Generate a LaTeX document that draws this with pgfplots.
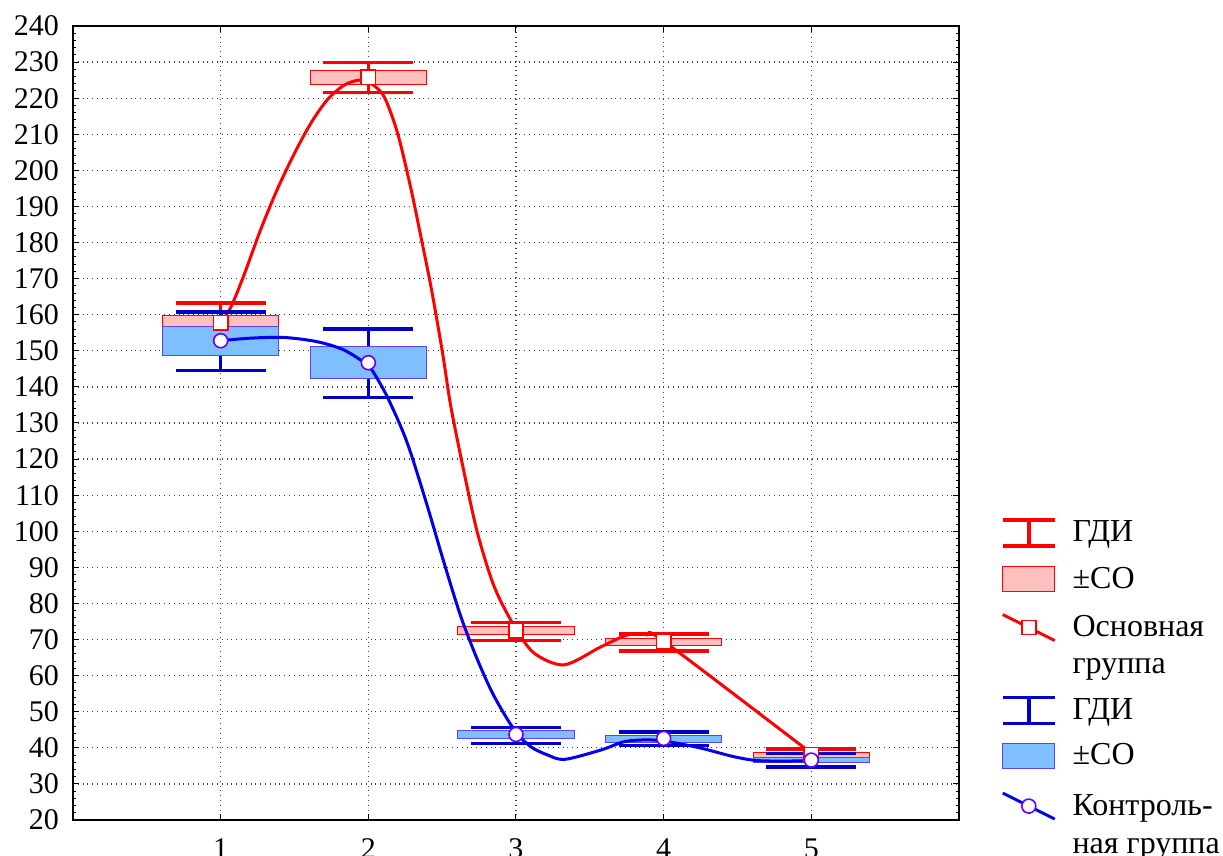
\documentclass[border=0pt]{standalone}
\usepackage{fontspec}
\setmainfont{Liberation Serif}
\usepackage{pgfplots}
\pgfplotsset{compat=1.18}
\definecolor{cred}{RGB}{255,0,0}
\definecolor{cpink}{RGB}{255,192,192}
\definecolor{cblue}{RGB}{0,0,235}
\definecolor{cbluew}{RGB}{0,0,205}
\definecolor{cbluefill}{RGB}{128,191,255}
\definecolor{cblueedge}{RGB}{96,64,255}
\definecolor{ccircle}{RGB}{100,0,255}
\newcommand{\lbb}[1]{\path[draw=none,fill=none] (0pt,-4.5pt) rectangle (26pt,#1);}
\newcommand{\ibar}[1]{\draw[#1, line width=1.8pt] (0pt,6.5pt) -- (26pt,6.5pt) (0pt,-6.5pt) -- (26pt,-6.5pt) (13pt,6.5pt) -- (13pt,-6.5pt);}
\begin{document}
\begin{tikzpicture}
\begin{axis}[name=ax, scale only axis, width=443pt, height=397pt,
 xmin=0, xmax=6, ymin=20, ymax=240,
 xtick={1,2,3,4,5}, ytick={20,30,...,240}, minor y tick num=4,
 grid=major, grid style={dotted, line width=0.6pt, black!75},
 tick align=inside, major tick length=3pt, minor tick length=1.6pt,
 axis line style={line width=0.6pt}, tick style={black, line width=0.5pt},
 /pgf/number format/assume math mode=true,
 tick label style={font=\fontsize{15}{15}\selectfont},
 xticklabel style={yshift=-6pt},
 yticklabel style={xshift=-3.5pt},
 unbounded coords=jump,
 legend style={at={(1,0)}, anchor=north west, xshift=21pt, yshift=153.5pt,
   draw=none, fill=none, inner sep=0pt, outer sep=0pt,
   font=\fontsize{16}{16.5}\selectfont, row sep=0pt, column sep=8pt,
   nodes={inner sep=0pt, outer sep=0pt},
   cells={anchor=base west}},
 legend cell align=left,
]
% ---------- red group: whiskers ----------
\addplot[cred, line width=1.8pt, forget plot] table {
x y
0.695 163.2
1.305 163.2
nan nan
1 152.4
1 163.2
nan nan
1.695 229.9
2.305 229.9
nan nan
1.695 221.6
2.305 221.6
nan nan
2 221.6
2 229.9
nan nan
2.695 74.7
3.305 74.7
nan nan
2.695 69.7
3.305 69.7
nan nan
3 69.7
3 74.7
nan nan
3.695 71.6
4.305 71.6
nan nan
3.695 66.9
4.305 66.9
nan nan
4 66.9
4 71.6
nan nan
4.695 39.7
5.305 39.7
nan nan
4.695 36.5
5.305 36.5
nan nan
5 36.5
5 39.7
};
% ---------- red boxes ----------
\addplot[fill=cpink, draw=cred, line width=0.5pt, forget plot] coordinates {(0.605,155.7) (1.395,155.7) (1.395,159.9) (0.605,159.9)} -- cycle;
\addplot[fill=cpink, draw=cred, line width=0.5pt, forget plot] coordinates {(1.605,223.9) (2.395,223.9) (2.395,227.6) (1.605,227.6)} -- cycle;
\addplot[fill=cpink, draw=cred, line width=0.5pt, forget plot] coordinates {(2.605,71.3) (3.395,71.3) (3.395,73.6) (2.605,73.6)} -- cycle;
\addplot[fill=cpink, draw=cred, line width=0.5pt, forget plot] coordinates {(3.605,68.3) (4.395,68.3) (4.395,70.4) (3.605,70.4)} -- cycle;
\addplot[fill=cpink, draw=cred, line width=0.5pt, forget plot] coordinates {(4.605,37.4) (5.395,37.4) (5.395,38.8) (4.605,38.8)} -- cycle;
% ---------- red means ----------
\addplot[only marks, mark=square*, mark size=3.6pt, mark options={fill=white, draw=cred, line width=0.8pt}, forget plot]
 coordinates {(1,157.8) (2,225.8) (3,72.4) (4,69.4) (5,38.1)};
% ---------- red curve ----------
\addplot[cred, line width=1.5pt, smooth, forget plot] coordinates {
(1,157.8) (1.068,162.0) (1.158,171.0) (1.27,183.5) (1.384,194.8) (1.497,204.5)
(1.61,213.0) (1.723,219.6) (1.836,223.6) (1.938,225.0) (2.017,224.1) (2.107,220.4)
(2.198,210.3) (2.288,195.0) (2.356,181.6) (2.424,167.8) (2.503,149.3) (2.559,134.5)
(2.65,116) (2.74,99.4) (2.853,84.6) (2.99,73.6) (3.124,66.2) (3.327,63.0)
(3.576,68.0) (3.757,71.3) (3.89,71.3) (4.005,69.4) (5,38.5)};
% ---------- blue whiskers ----------
\addplot[cbluew, line width=1.8pt, forget plot] table {
x y
0.695 160.7
1.305 160.7
nan nan
0.695 144.6
1.305 144.6
nan nan
1 144.6
1 160.7
nan nan
1.695 156.0
2.305 156.0
nan nan
1.695 137.1
2.305 137.1
nan nan
2 137.1
2 156.0
nan nan
2.695 45.6
3.305 45.6
nan nan
2.695 41.2
3.305 41.2
nan nan
3 41.2
3 45.6
nan nan
3.695 44.3
4.305 44.3
nan nan
3.695 40.6
4.305 40.6
nan nan
4 40.6
4 44.3
nan nan
4.695 38.4
5.305 38.4
nan nan
4.695 34.7
5.305 34.7
nan nan
5 34.7
5 38.4
};
% ---------- blue boxes ----------
\addplot[fill=cbluefill, draw=cblueedge, line width=0.5pt, forget plot] coordinates {(0.605,148.8) (1.395,148.8) (1.395,156.8) (0.605,156.8)} -- cycle;
\addplot[fill=cbluefill, draw=cblueedge, line width=0.5pt, forget plot] coordinates {(1.605,142.2) (2.395,142.2) (2.395,151.1) (1.605,151.1)} -- cycle;
\addplot[fill=cbluefill, draw=cblueedge, line width=0.5pt, forget plot] coordinates {(2.605,42.7) (3.395,42.7) (3.395,44.7) (2.605,44.7)} -- cycle;
\addplot[fill=cbluefill, draw=cblueedge, line width=0.5pt, forget plot] coordinates {(3.605,41.5) (4.395,41.5) (4.395,43.3) (3.605,43.3)} -- cycle;
\addplot[fill=cbluefill, draw=cblueedge, line width=0.5pt, forget plot] coordinates {(4.605,35.8) (5.395,35.8) (5.395,37.4) (4.605,37.4)} -- cycle;
% ---------- blue means ----------
\addplot[only marks, mark=*, mark size=3.5pt, mark options={fill=white, draw=ccircle, line width=0.8pt}, forget plot]
 coordinates {(1,152.8) (2,146.7) (3,43.7) (4,42.6) (5,36.6)};
% ---------- blue curve ----------
\addplot[cblue, line width=1.5pt, smooth, forget plot] coordinates {
(1,152.8) (1.2,153.5) (1.43,153.7) (1.656,152.5) (1.836,150.2) (1.995,146.0)
(2.062,142.2) (2.13,137.1) (2.22,129.0) (2.288,121.6) (2.401,106.8) (2.514,91.1)
(2.627,76.3) (2.74,64.3) (2.853,54.2) (2.99,44.9) (3.10,40.3) (3.215,38.0)
(3.33,36.8) (3.576,39.4) (3.734,41.7) (3.893,42.2) (4.03,41.7) (4.254,39.9)
(4.48,37.5) (4.66,36.4) (5,36.4)};
% ---------- legend ----------
\addlegendimage{legend image code/.code={\lbb{10pt}\ibar{cred}}}
\addlegendentry{ГДИ}
\addlegendimage{legend image code/.code={\lbb{15.7pt}\draw[fill=cpink, draw=cred, line width=0.5pt] (0pt,-6.25pt) rectangle (26pt,6.25pt);}}
\addlegendentry{±СО}
\addlegendimage{legend image code/.code={\lbb{17.7pt}\draw[cred, line width=1.5pt] (0pt,6.5pt) -- (26pt,-6.5pt); \draw[cred, fill=white, line width=0.8pt] (9.5pt,-3.5pt) rectangle (16.5pt,3.5pt);}}
\addlegendentry{Основная}
\addlegendimage{empty legend}
\addlegendentry{\rule{0pt}{15.5pt}группа}
\addlegendimage{legend image code/.code={\lbb{17.2pt}\ibar{cbluew}}}
\addlegendentry{ГДИ}
\addlegendimage{legend image code/.code={\lbb{15.2pt}\draw[fill=cbluefill, draw=cblueedge, line width=0.5pt] (0pt,-6.25pt) rectangle (26pt,6.25pt);}}
\addlegendentry{±СО}
\addlegendimage{legend image code/.code={\lbb{18.7pt}\draw[cblue, line width=1.5pt] (0pt,6.5pt) -- (26pt,-6.5pt); \draw[ccircle, fill=white, line width=0.8pt] (13pt,0pt) circle (3.5pt);}}
\addlegendentry{Контроль-}
\addlegendimage{empty legend}
\addlegendentry{\rule{0pt}{16.5pt}ная группа}
\end{axis}
\pgfresetboundingbox
\path[use as bounding box] ([shift={(-36.5pt,-18pt)}]ax.south west) rectangle ([shift={(575pt,410pt)}]ax.south west);
\end{tikzpicture}
\end{document}
